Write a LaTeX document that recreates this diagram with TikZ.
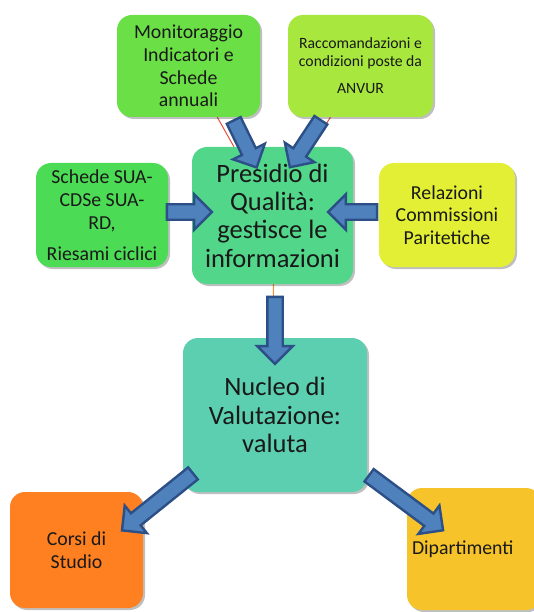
\documentclass[tikz,border=0pt]{standalone}
\usepackage{fontspec}
\setmainfont{Carlito}
\usetikzlibrary{calc,positioning,shapes.arrows,shadows,backgrounds}

\definecolor{monGreen}{HTML}{6BE046}
\definecolor{raccGreen}{HTML}{A8E83E}
\definecolor{suaGreen}{HTML}{4CDB55}
\definecolor{presGreen}{HTML}{52D68A}
\definecolor{relYellow}{HTML}{E2EF34}
\definecolor{nucTeal}{HTML}{5BCFB0}
\definecolor{corsiOrange}{HTML}{FF8020}
\definecolor{dipYellow}{HTML}{F6C42A}
\definecolor{arrowFill}{HTML}{4F81BD}
\definecolor{arrowLine}{HTML}{2B4F86}
\definecolor{linkRed}{HTML}{E8503A}
\definecolor{linkOrange}{HTML}{F29030}

\tikzset{
  box/.style={rounded corners=15pt, align=center, inner sep=2pt, text=black!90,
    drop shadow={shadow xshift=2pt, shadow yshift=-2pt, fill=black, opacity=0.25}},
  midtext/.style={font=\fontsize{19.8}{22.8}\selectfont},
  bigtext/.style={font=\fontsize{26.5}{28.3}\selectfont},
  bigarrow/.style={single arrow, draw=arrowLine, fill=arrowFill, line width=2.4pt,
    inner xsep=0pt, inner ysep=6.5pt, single arrow head extend=10pt,
    single arrow tip angle=90},
  link/.style={line width=1pt}
}

% block arrow between two named coordinates
\newcommand{\blockarrow}[2]{%
  \path let \p1=($(#2)-(#1)$), \n1={veclen(\x1,\y1)}, \n2={atan2(\y1,\x1)} in
    node[bigarrow, minimum height=\n1, rotate=\n2] at ($(#1)!0.5!(#2)$) {};}

\begin{document}
\begin{tikzpicture}[x=1pt, y=-1pt]
  \useasboundingbox (0,0) rectangle (534,612);

  % top row
  \node[box, midtext, fill=monGreen, minimum width=143, minimum height=102] (mon) at (188.5,66)
    {Monitoraggio\\Indicatori e\\Schede\\annuali};
  \node[box, fill=raccGreen, minimum width=145, minimum height=102,
    font=\fontsize{15.7}{18}\selectfont] (racc) at (360.5,66)
    {Raccomandazioni e\\condizioni poste da\\[9pt]ANVUR};

  % middle row
  \node[box, midtext, fill=suaGreen, minimum width=132, minimum height=104] (sua) at (102,215)
    {Schede SUA-\\CDSe SUA-\\RD,\\[8pt]Riesami ciclici};
  \node[box, bigtext, fill=presGreen, minimum width=161, minimum height=137] (pres) at (272.5,215.5)
    {Presidio di\\Qualità:\\gestisce le\\informazioni};
  \node[box, midtext, fill=relYellow, minimum width=136, minimum height=104] (rel) at (447,215)
    {Relazioni\\Commissioni\\Paritetiche};

  % evaluation
  \node[box, bigtext, fill=nucTeal, minimum width=184, minimum height=154] (nuc) at (275,415)
    {Nucleo di\\Valutazione:\\valuta};

  % bottom row
  \node[box, midtext, fill=corsiOrange, minimum width=133, minimum height=116] (corsi) at (76.5,550)
    {Corsi di\\Studio};
  \node[box, midtext, fill=dipYellow, minimum width=134, minimum height=122,
    align=left, text width=124, inner xsep=5pt] (dip) at (474,549)
    {Dipartimenti};

  % thin links behind the boxes
  \begin{pgfonlayer}{background}
    \draw[link, linkRed] (mon) -- (pres);
    \draw[link, linkRed] (racc) -- (pres);
    \draw[link, linkOrange] (pres) -- (nuc);
  \end{pgfonlayer}

  % arrow ends
  \coordinate (m1) at (232,117);  \coordinate (m2) at (255,164);
  \coordinate (r1) at (323,117);  \coordinate (r2) at (292,164);
  \coordinate (s1) at (163,212);  \coordinate (s2) at (208,212);
  \coordinate (l1) at (381,212);  \coordinate (l2) at (332,212);
  \coordinate (p1) at (275,293);  \coordinate (p2) at (275,360);
  \coordinate (c1) at (196,471);  \coordinate (c2) at (125,528);
  \coordinate (d1) at (366,473);  \coordinate (d2) at (440,528);

  \foreach \a/\b in {m1/m2, r1/r2, s1/s2, l1/l2, p1/p2, c1/c2, d1/d2}
    \blockarrow{\a}{\b};
\end{tikzpicture}
\end{document}
